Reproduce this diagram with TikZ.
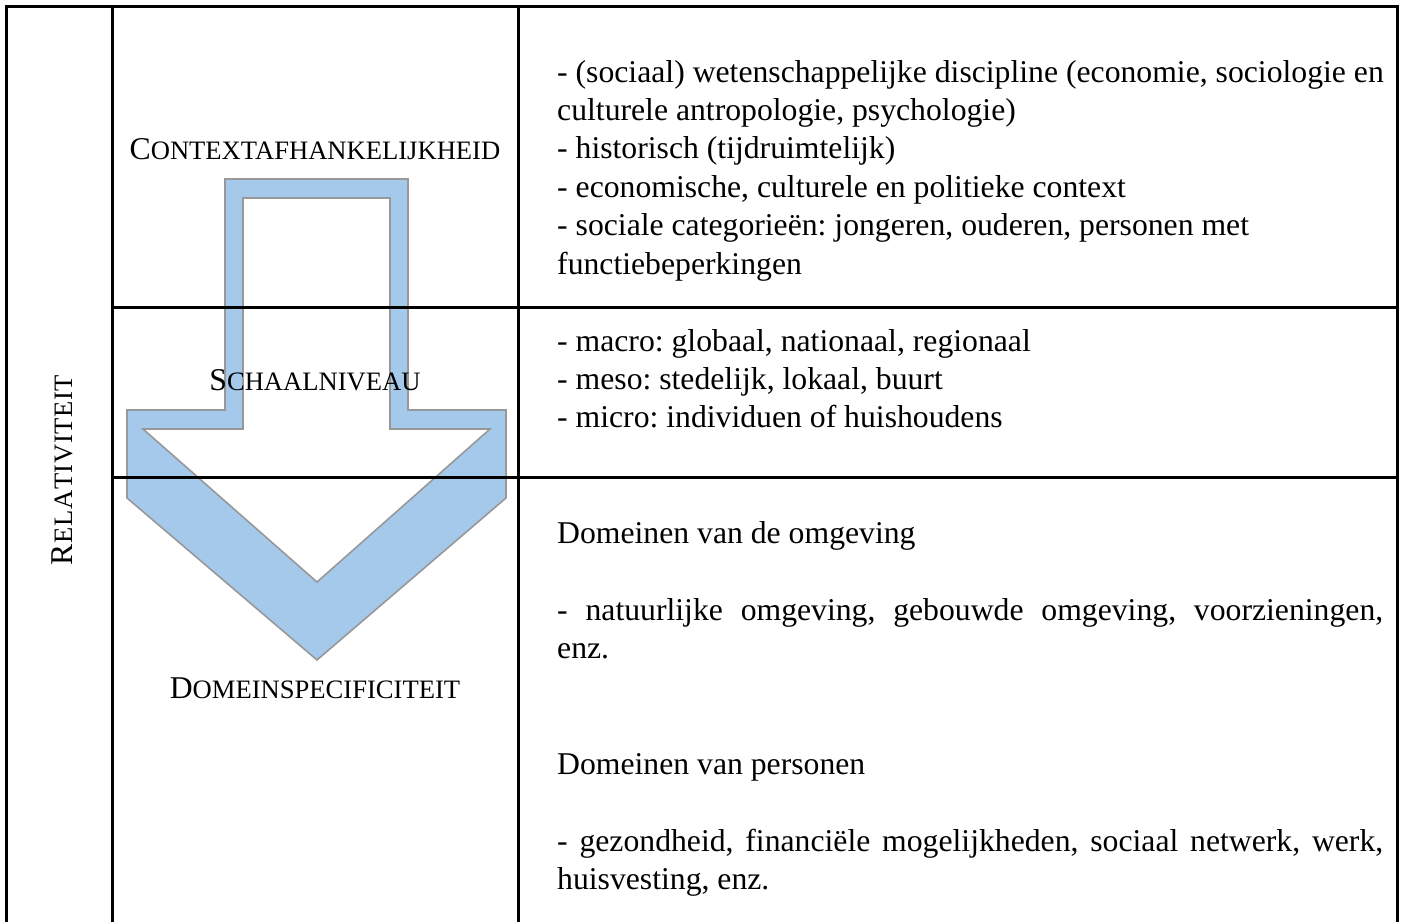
\documentclass[tikz,border=0pt]{standalone}
\usepackage{fontspec}
\setmainfont{Liberation Serif}
\definecolor{arrowblue}{RGB}{164,201,235}
\definecolor{arrowgrey}{RGB}{152,152,152}
\newcommand{\bigsz}{\fontsize{31.7pt}{38.4pt}\selectfont}
\newcommand{\smsz}{\fontsize{26.6pt}{30pt}\selectfont}
\newcommand{\fakesc}[2]{{\bigsz #1}{\smsz #2}}
\frenchspacing
\tikzset{
  grid/.style={line width=3pt, black},
  txt/.style={anchor=base west, inner sep=0pt, font=\bigsz\frenchspacing},
  lbl/.style={anchor=base, inner sep=0pt},
  arrowband/.style={fill=arrowblue, even odd rule},
  arrowedge/.style={draw=arrowgrey, line width=1.6pt, line join=miter}
}
\begin{document}
\begin{tikzpicture}[x=1pt,y=-1pt]
\useasboundingbox (0,0) rectangle (1403,922);
\fill[white] (0,0) rectangle (1403,922);
% arrow
\fill[arrowband]
  (225,179) -- (408,179) -- (408,410) -- (506,410) -- (506,498) -- (317,660) -- (127,498) -- (127,410) -- (225,410) -- cycle
  (243,198) -- (390,198) -- (390,429) -- (490,429) -- (317,582) -- (143,429) -- (243,429) -- cycle;
\draw[arrowedge]
  (225,179) -- (408,179) -- (408,410) -- (506,410) -- (506,498) -- (317,660) -- (127,498) -- (127,410) -- (225,410) -- cycle
  (243,198) -- (390,198) -- (390,429) -- (490,429) -- (317,582) -- (143,429) -- (243,429) -- cycle;
% table
\draw[grid] (6,922) -- (6,6) -- (1397,6) -- (1397,922);
\draw[grid] (112,6) -- (112,922);
\draw[grid] (518,6) -- (518,922);
\draw[grid] (112,307) -- (1397,307);
\draw[grid] (112,477) -- (1397,477);
% left labels
\node[lbl, rotate=90] (rel) at (72,470) {\fakesc{R}{\hspace{0.6pt}E\hspace{0.6pt}L\hspace{0.6pt}A\hspace{0.6pt}T\hspace{0.6pt}I\hspace{0.6pt}V\hspace{0.6pt}I\hspace{0.6pt}T\hspace{0.6pt}E\hspace{0.6pt}I\hspace{0.6pt}T}};
\node[lbl] (ctx) at (315,159) {\fakesc{C}{ONTEXTAFHANKELIJKHEID}};
\node[lbl] (sch) at (315,390) {\fakesc{S}{CHAALNIVEAU}};
\node[lbl] (dom) at (315,698) {\fakesc{D}{OMEINSPECIFICITEIT}};
% row 1
\node[txt] (a1) at (557,82) {- (sociaal) wetenschappelijke discipline (economie, sociologie en};
\node[txt] (a2) at (557,120.4) {culturele antropologie, psychologie)};
\node[txt] (a3) at (557,158.8) {- historisch (tijdruimtelijk)};
\node[txt] (a4) at (557,197.2) {- economische, culturele en politieke context};
\node[txt] (a5) at (557,235.6) {- sociale categorieën: jongeren, ouderen, personen met};
\node[txt] (a6) at (557,274) {functiebeperkingen};
% row 2
\node[txt] (b1) at (557,351) {- macro: globaal, nationaal, regionaal};
\node[txt] (b2) at (557,389.4) {- meso: stedelijk, lokaal, buurt};
\node[txt] (b3) at (557,427.8) {- micro: individuen of huishoudens};
% row 3
\node[txt] (c1) at (557,543) {Domeinen van de omgeving};
\node[txt] (c2) at (557,620) {\makebox[826pt][s]{- natuurlijke omgeving, gebouwde omgeving, voorzieningen,}};
\node[txt] (c3) at (557,658.4) {enz.};
\node[txt] (c4) at (557,774) {Domeinen van personen};
\node[txt] (c5) at (557,851) {\makebox[826pt][s]{- gezondheid, financiële mogelijkheden, sociaal netwerk, werk,}};
\node[txt] (c6) at (557,889.4) {huisvesting, enz.};
\end{tikzpicture}
\end{document}
